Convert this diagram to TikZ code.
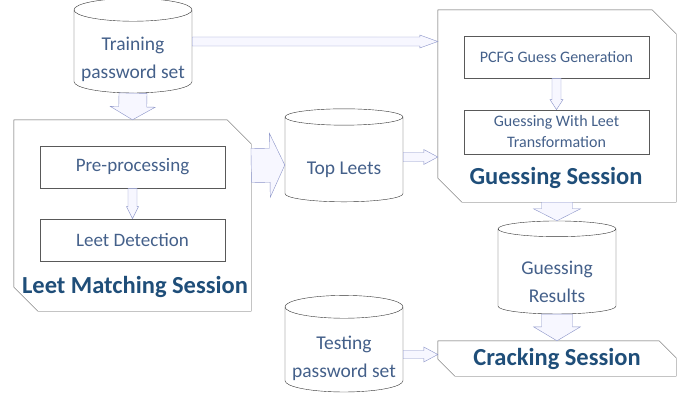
\documentclass[tikz,border=0pt]{standalone}
\usepackage{fontspec}
\setmainfont{Carlito}
\usetikzlibrary{shapes.geometric,calc}

\definecolor{txtblue}{HTML}{44608A}
\definecolor{ttlblue}{HTML}{1F4E79}
\definecolor{frame}{HTML}{595959}
\definecolor{arrowedge}{HTML}{8A93C8}

% hollow block arrow: [style]{from}{to}{shaft half width}{head half width}{head length}
\newcommand\fatarrow[6][]{%
  \path (#2) coordinate (fa-s) (#3) coordinate (fa-e);
  \coordinate (fa-h) at ($(fa-e)!#6!(fa-s)$);
  \draw[hollow,#1] ($(fa-s)!#4!90:(fa-e)$) -- ($(fa-h)!#4!-90:(fa-s)$)
     -- ($(fa-h)!#5!-90:(fa-s)$) -- (fa-e) -- ($(fa-h)!#5!90:(fa-s)$)
     -- ($(fa-h)!#4!90:(fa-s)$) -- ($(fa-s)!#4!-90:(fa-e)$) -- cycle;
}
% outline of a stage node with the north east and south west corners cut off
\newcommand\snipframe[2]{%
  \draw[draw=frame, thin] (#1.north west) -- ($(#1.north east)+(-#2,0)$) -- ($(#1.north east)+(0,#2)$)
     -- (#1.south east) -- ($(#1.south west)+(#2,0)$) -- ($(#1.south west)+(0,-#2)$) -- cycle;
}

\begin{document}
\begin{tikzpicture}[x=1pt, y=-1pt,
        dbnode/.style={cylinder, shape border rotate=90, aspect=0.22, draw=black!80, fill=white,
            thin, minimum width=118pt, minimum height=93pt, inner sep=0pt, align=center,
            text=txtblue, font=\fontsize{19.5}{28}\selectfont,
            execute at begin node={\rule{0pt}{#1}}},
        dbnode/.default=34pt,
        stage/.style={rectangle, inner sep=0pt},
        stepbox/.style={rectangle, draw=frame, thick, minimum width=185pt, minimum height=42pt,
            inner sep=0pt, align=center, text=txtblue},
        title/.style={text=ttlblue, font=\fontsize{24.5}{28}\selectfont\bfseries},
        hollow/.style={draw=arrowedge, fill=blue!3, line join=miter},
        ]
            \useasboundingbox (0,0) rectangle (681,399);

            \node[dbnode=57pt]  at(133,51.5) (train) {Training\\password set};

            \node[stage, minimum width=237pt, minimum height=191pt]  at(132.5,215.5) (leet) {};
            \snipframe{leet}{24}
            \node[stepbox, font=\fontsize{19}{22}\selectfont]  at(132.5,167) (pre) {Pre-processing};
            \node[stepbox, font=\fontsize{19}{22}\selectfont]  at(132.5,240) (det) {Leet Detection};
            \node[title]  at(135,287) (leettitle) {Leet Matching Session};

            \node[dbnode]  at(344,159.5) (top) {Top Leets};

            \node[stage, minimum width=238pt, minimum height=192pt]  at(557,106) (guess) {};
            \snipframe{guess}{24}
            \node[stepbox, font=\fontsize{16}{20}\selectfont]  at(556.5,57) (pcfg) {PCFG Guess Generation};
            \node[stepbox, minimum height=44pt, font=\fontsize{16}{21}\selectfont]  at(556.5,132) (gwl) {Guessing With Leet\\Transformation};
            \node[title]  at(556,178) (guesstitle) {Guessing Session};

            \node[dbnode=62pt]  at(557,271.5) (res) {Guessing\\Results};

            \node[stage, minimum width=238pt, minimum height=35pt, title]  at(557,358.5) (crack) {Cracking Session};
            \snipframe{crack}{17}

            \node[dbnode=59pt, minimum height=95pt]  at(344,349.5) (test) {Testing\\password set};

            \fatarrow{train.south}{leet.north}{14pt}{22.5pt}{13pt}
            \fatarrow{$(leet.east)+(0,-50)$}{$(top.west)+(0,5.5)$}{17pt}{32pt}{15pt}
            \fatarrow{$(train.east)+(0,-10)$}{$(guess.west)+(0,-64.5)$}{4.5pt}{6.5pt}{18pt}
            \fatarrow{$(top.east)+(0,-2.5)$}{$(guess.west)+(0,51)$}{4.5pt}{7.5pt}{14pt}
            \fatarrow{pre.south}{det.north}{4.5pt}{6pt}{12pt}
            \fatarrow{pcfg.south}{gwl.north}{4.5pt}{6.5pt}{10pt}
            \fatarrow{guess.south}{res.north}{15.5pt}{23.5pt}{12pt}
            \fatarrow{res.south}{crack.north}{15.5pt}{23.5pt}{14pt}
            \fatarrow{$(test.east)+(0,5)$}{$(crack.west)+(0,-4)$}{4pt}{7.5pt}{14pt}

            \end{tikzpicture}
\end{document}
